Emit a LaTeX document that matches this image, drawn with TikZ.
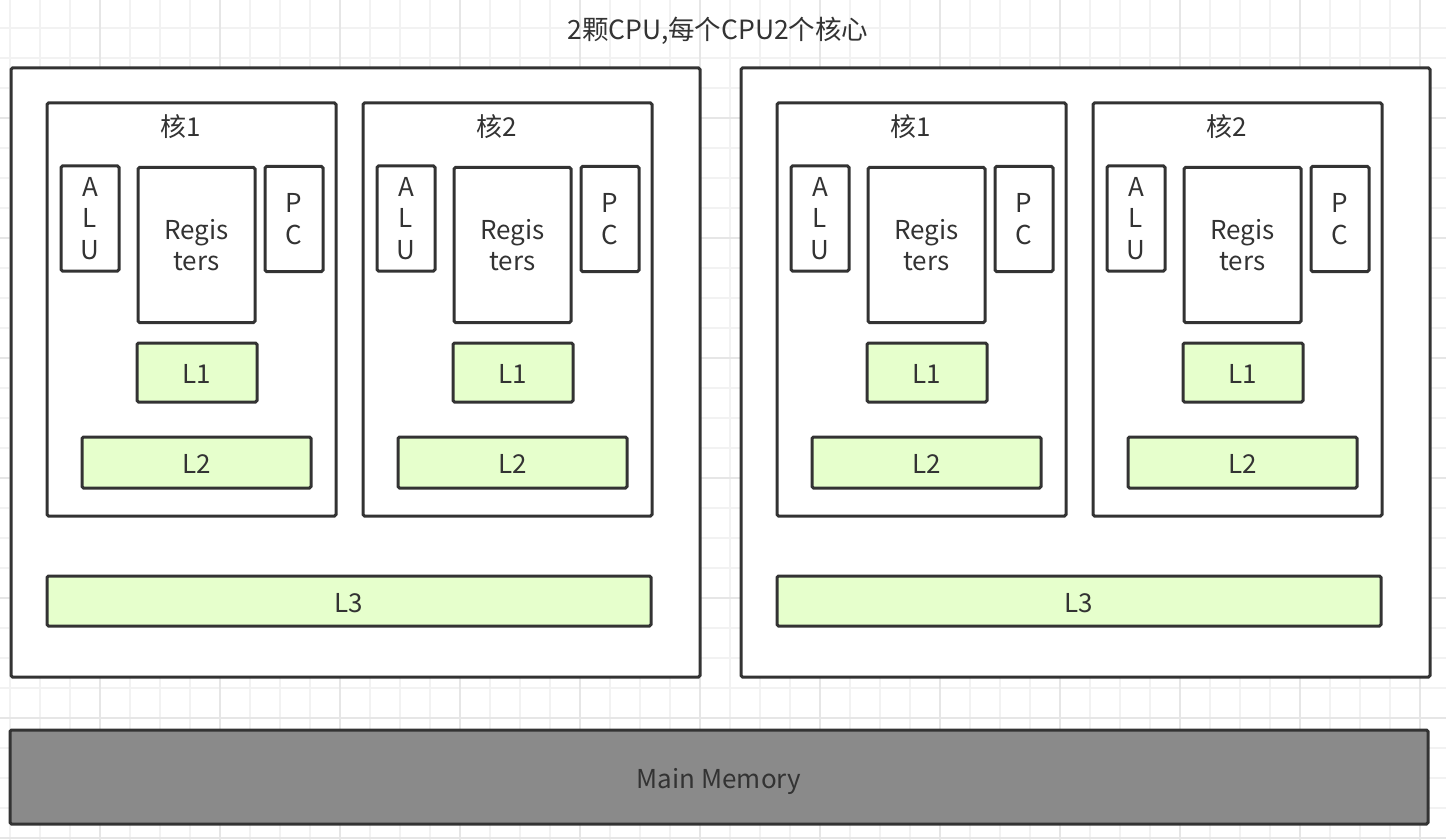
\documentclass[tikz,border=0pt]{standalone}
\usepackage{fontspec}
\setmainfont{Noto Sans CJK SC}
\usetikzlibrary{positioning}
\definecolor{edgegray}{HTML}{333333}
\definecolor{cachegreen}{HTML}{E6FFCC}
\definecolor{memgray}{HTML}{8A8A8A}
\definecolor{gridlight}{HTML}{F2F2F2}
\definecolor{griddark}{HTML}{E6E6E6}
\tikzset{
  boxline/.style={draw=edgegray, line width=3pt, rounded corners=1.5pt, text=edgegray,
    font=\fontsize{26}{31.5}\selectfont, align=center, inner sep=0pt},
  cpubox/.style={boxline, fill=white, minimum width=689pt, minimum height=609pt},
  corebox/.style={boxline, fill=white, minimum width=289pt, minimum height=413pt},
  unitbox/.style={boxline, fill=white, minimum width=58pt, minimum height=105pt},
  regbox/.style={boxline, fill=white, minimum width=117pt, minimum height=155pt},
  cachebox/.style={boxline, fill=cachegreen, text height=24pt, text depth=2pt},
  membox/.style={boxline, fill=memgray, minimum width=1418pt, minimum height=94pt,
    text height=24pt, text depth=2pt},
  labeltext/.style={text=edgegray, font=\fontsize{26}{30}\selectfont, inner sep=0pt}
}
\begin{document}
\begin{tikzpicture}[x=1pt, y=-1pt]
  \useasboundingbox (0,0) rectangle (1446,840);
  \fill[white] (0,0) rectangle (1446,840);
  % background grid
  \foreach \x in {10,40,...,1440}
    \draw[gridlight, line width=1.2pt] (\x,0) -- (\x,840);
  \foreach \y in {28,58,...,838}
    \draw[gridlight, line width=1.2pt] (0,\y) -- (1446,\y);
  \foreach \x in {100,220,...,1420}
    \draw[griddark, line width=1.2pt] (\x,0) -- (\x,840);
  \foreach \y in {118,238,...,838}
    \draw[griddark, line width=1.2pt] (0,\y) -- (1446,\y);

  \node[labeltext, font=\fontsize{26.5}{30}\selectfont] (title) at (718,31) {2颗CPU,每个CPU2个核心};

  \foreach \c/\cx in {1/0, 2/730} {
    \node[cpubox] (cpu\c) at (355.5+\cx,372.5) {};
    \node[cachebox, minimum width=604pt, minimum height=50pt] (lthree\c) at (349+\cx,601) {L3};
    \foreach \k/\kx in {1/0, 2/316} {
      \node[corebox] (core\c\k) at (191.5+\cx+\kx,309.5) {};
      \node[labeltext] (name\c\k) at (181+\cx+\kx,127) {核\k};
      \node[unitbox] (alu\c\k) at (90+\cx+\kx,218.5) {A\\L\\U};
      \node[regbox] (reg\c\k) at (196.5+\cx+\kx,245) {Regis\\ters};
      \node[unitbox] (pc\c\k) at (294+\cx+\kx,219) {P\\C};
      \node[cachebox, minimum width=120pt, minimum height=59pt] (lone\c\k) at (197+\cx+\kx,372.5) {L1};
      \node[cachebox, minimum width=229pt, minimum height=51pt] (ltwo\c\k) at (196.5+\cx+\kx,462.5) {L2};
    }
  }

  \node[membox] (mem) at (719,777) {Main Memory};
\end{tikzpicture}
\end{document}
